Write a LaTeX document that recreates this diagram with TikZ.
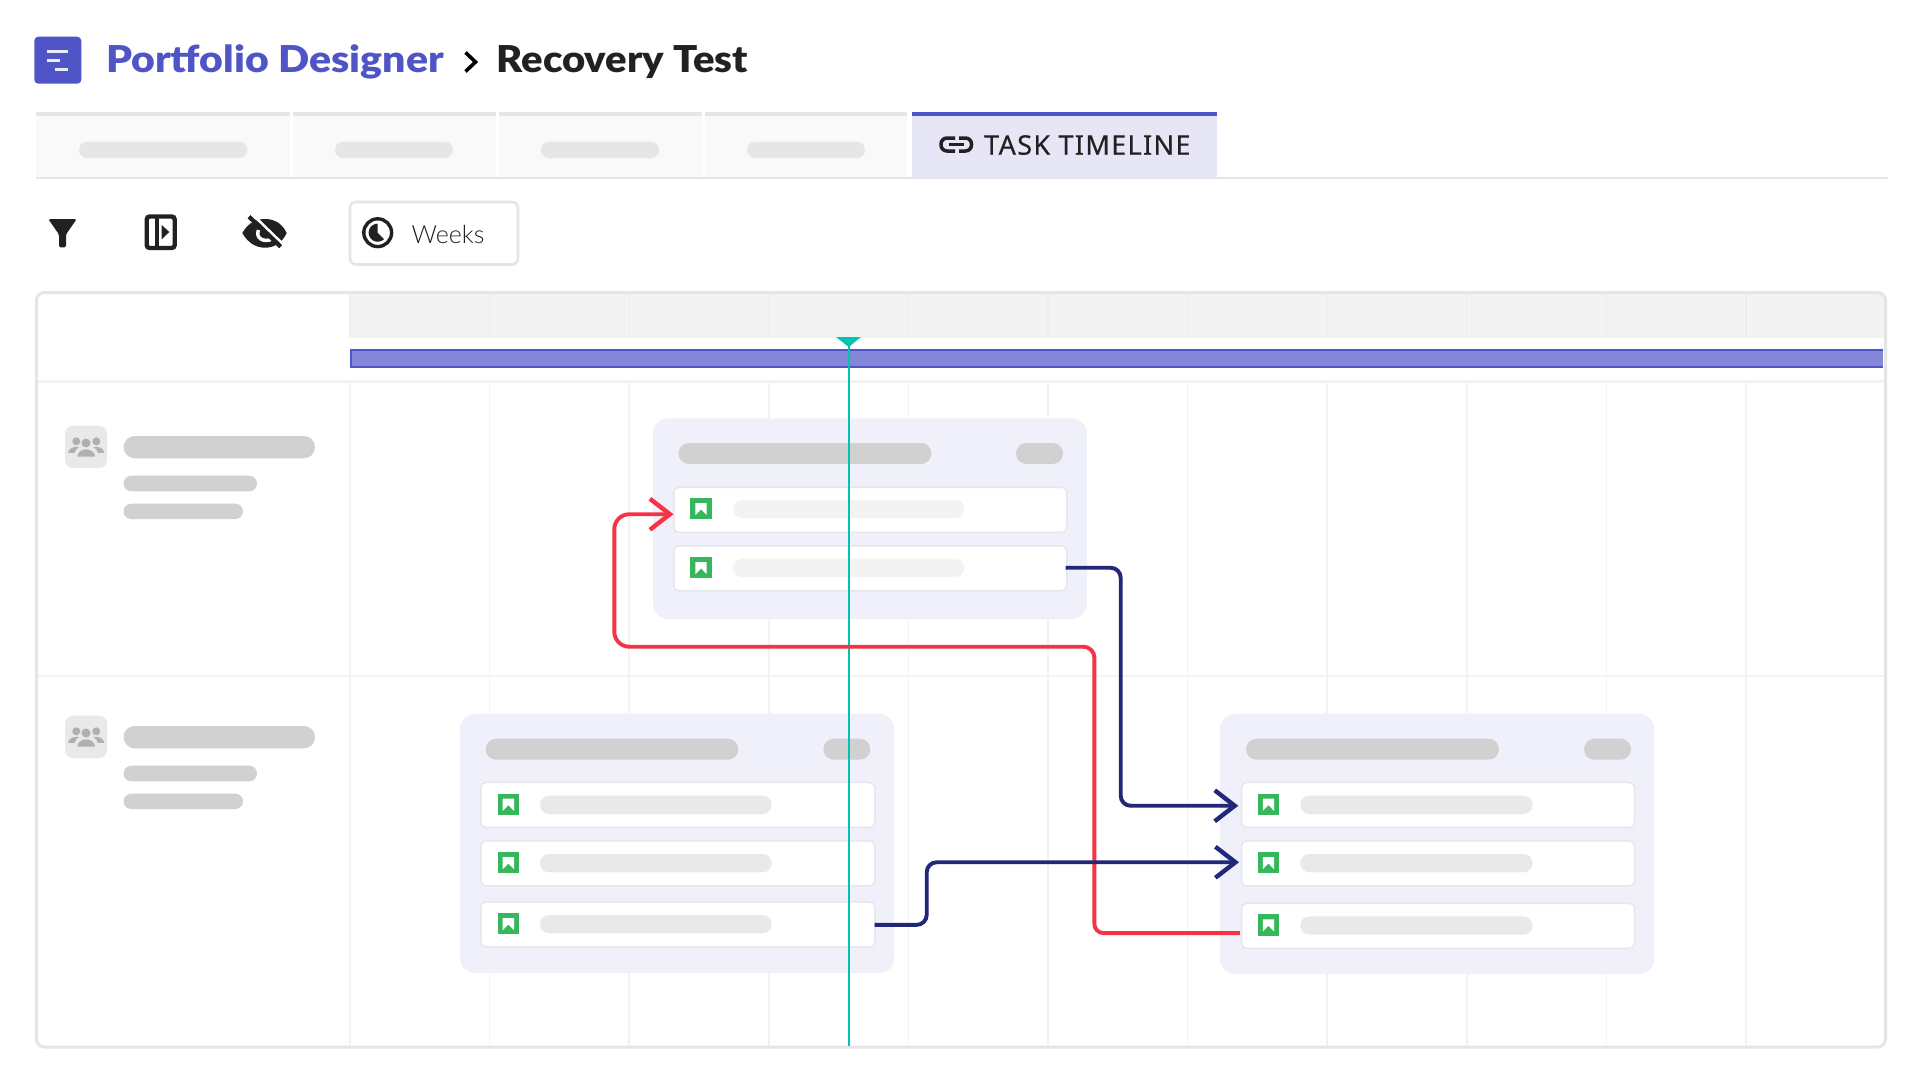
\documentclass[tikz,border=0pt]{standalone}
\usepackage{fontspec}
\usetikzlibrary{arrows.meta}
\setmainfont{Lato}
\newfontfamily\titlef[FakeStretch=1.108]{Lato Black}
\newfontfamily\pagef[FakeStretch=1.082]{Lato Black}
\newfontfamily\tabf[LetterSpace=5,FakeBold=0.4]{Noto Sans}
\newfontfamily\weekf{Lato Light}
\definecolor{brand}{HTML}{4F55C6}
\definecolor{ink}{HTML}{212121}
\definecolor{tabbg}{HTML}{F9F9F9}
\definecolor{tabedge}{HTML}{E6E6E6}
\definecolor{tabact}{HTML}{E6E6F6}
\definecolor{frame}{HTML}{E5E5E5}
\definecolor{headbg}{HTML}{F3F3F3}
\definecolor{headline}{HTML}{EDEDED}
\definecolor{gridc}{HTML}{F3F3F3}
\definecolor{barfill}{HTML}{8487D8}
\definecolor{teal}{HTML}{00C4B0}
\definecolor{pilldk}{HTML}{D1D1D1}
\definecolor{pillmd}{HTML}{E9E9E9}
\definecolor{pilllt}{HTML}{F3F3F3}
\definecolor{cardbg}{HTML}{F0F0FA}
\definecolor{rowedge}{HTML}{E6E6EC}
\definecolor{okgreen}{HTML}{36B75B}
\definecolor{peop}{HTML}{B0B0B0}
\definecolor{redc}{HTML}{F83244}
\definecolor{navyc}{HTML}{222778}
\tikzset{
  x=1pt,y=-1pt,
  card/.style={fill=cardbg,rounded corners=15pt},
  rowbox/.style={draw=rowedge,line width=1.5pt,fill=white,rounded corners=5pt,inner sep=0pt,anchor=north west,minimum width=#1,minimum height=45pt},
  link/.style={line width=3.9pt,rounded corners=10pt,-{Straight Barb[length=20pt,width=31pt,line width=4.4pt]}},
  linkred/.style={link,draw=redc},
  linknavy/.style={link,draw=navyc},
  gridline/.style={draw=gridc,line width=1.5pt},
  tabcell/.style={fill=tabbg},
  toptab/.style={fill=tabedge},
}
\newcommand{\pillbar}[5]{%
  \pgfmathsetmacro{\pr}{0.5*abs(#4-#2)-0.1}%
  \fill[#5,rounded corners=\pr pt] (#1,#2) rectangle (#3,#4);}
\newcommand{\bookicon}[2]{%
  \begin{scope}[shift={(#1,#2)}]
    \fill[okgreen] (0,0) rectangle (21.4,21.4);
    \fill[white] (5,5) -- (16.3,5) -- (16.3,17.2) -- (10.65,11.4) -- (5,17.2) -- cycle;
  \end{scope}}
\newcommand{\people}[2]{%
  \begin{scope}[shift={(#1,#2)}]
    \fill[peop] (-9.7,-5.7) circle (4);
    \fill[peop] (10.3,-5.7) circle (4);
    \fill[peop] (-18,5.8) .. controls (-17,0.5) and (-12,-0.5) .. (-7,0) .. controls (-9,1.5) and (-11,3) .. (-11.5,5.8) -- cycle;
    \fill[peop] (18.4,5.8) .. controls (17.4,0.5) and (12.4,-0.5) .. (7.4,0) .. controls (9.4,1.5) and (11.4,3) .. (11.9,5.8) -- cycle;
    \fill[peop] (0,-4) circle (4.5);
    \fill[peop,draw=pillmd,line width=1.2pt] (-9.5,10.2) .. controls (-9.5,4) and (-4,1.6) .. (0,1.6) .. controls (4,1.6) and (9.5,4) .. (10,10.2) -- cycle;
  \end{scope}}
\begin{document}
\begin{tikzpicture}
\useasboundingbox (0,0) rectangle (1920,1080);
\fill[white] (0,0) rectangle (1920,1080);
% logo
\fill[brand,rounded corners=4pt] (34.3,36.7) rectangle (81.3,83.7);
\fill[white!88!brand] (47,50.2) rectangle (68,53.2);
\fill[white!88!brand] (47,58.5) rectangle (60,61.5);
\fill[white!88!brand] (55,67.5) rectangle (68,70.5);
% title
\node[anchor=base west,inner sep=0pt,text=brand] (crumb) at (106,72) {\titlef\fontsize{37}{44}\selectfont Portfolio Designer};
\node[anchor=base west,inner sep=0pt,text=ink] (page) at (496.5,72) {\pagef\fontsize{37}{44}\selectfont Recovery Test};
\draw[black,line width=3.6pt] (465.5,52.5) -- (475.5,62) -- (465.5,71.5);
% tabs
\foreach \a/\b/\c/\d in {36/290/79/247.4,293/496/335/453,498.5/702/541/659,704.6/907/747/865}{
  \fill[tabcell] (\a,116) rectangle (\b,177);
  \fill[toptab] (\a,111.7) rectangle (\b,116);
  \pillbar{\c}{141.7}{\d}{158}{tabedge}
}
\fill[frame] (36,177) rectangle (1888,179);
\fill[tabact] (912.3,115) rectangle (1216.8,177);
\fill[brand] (912.3,111.7) rectangle (1216.8,115.7);
\draw[ink,line width=3.5pt,rounded corners=6pt] (955,138) -- (941,138) -- (941,151) -- (955,151);
\draw[ink,line width=3.5pt,rounded corners=6pt] (959,138) -- (971.5,138) -- (971.5,151) -- (959,151);
\draw[ink,line width=3.2pt] (949,144.5) -- (964.3,144.5);
\node[anchor=base west,inner sep=0pt,text=ink] (tabtext) at (984,154.7) {\tabf\fontsize{27}{30}\selectfont TASK TIMELINE};
% toolbar: funnel
\fill[ink,rounded corners=1.5pt] (48.3,219) -- (76.7,219) -- (66,234.5) -- (66,247.3) -- (59,247.3) -- (59,234.5) -- cycle;
% panel
\draw[ink,line width=4.4pt,rounded corners=3pt] (146.7,216.5) rectangle (174.7,248);
\fill[ink] (155,216) rectangle (159,248);
\fill[ink] (161.7,225) -- (169.3,232) -- (161.7,239.3) -- cycle;
% eye
\fill[ink] (242.3,233) .. controls (248,223) and (256,219) .. (265,219) .. controls (274,219) and (282,223) .. (286.7,233) .. controls (282,243) and (274,247.7) .. (265,247.7) .. controls (256,247.7) and (248,243) .. (242.3,233) -- cycle;
\draw[white,line width=3.5pt] (258.5,230) .. controls (255,238) and (264,243) .. (272,239);
\draw[white,line width=2.5pt] (251,213) -- (286,247);
\draw[ink,line width=4.2pt] (249,216.7) -- (280.7,246.7);
% weeks
\draw[frame,line width=2.6pt,fill=white,rounded corners=6pt] (350,202) rectangle (518,264.5);
\draw[ink,line width=3.4pt] (377.7,232.7) circle (13.9);
\fill[ink] (377.7,232.7) -- plot[domain=90:315,samples=30] ({377.7+9*cos(\x)},{232.7-9*sin(\x)}) -- cycle;
\node[anchor=base west,inner sep=0pt,text=ink] (weeks) at (411.5,243) {\weekf\fontsize{25}{30}\selectfont Weeks};
% chart frame
\fill[white,rounded corners=8pt] (36.5,292.5) rectangle (1885.5,1047);
\begin{scope}
  \clip[rounded corners=8pt] (36.5,292.5) rectangle (1885.5,1047);
  \fill[headbg] (349.5,292.5) rectangle (1885.5,337.7);
\end{scope}
\foreach \k in {0,...,10}{
  \pgfmathsetmacro{\gx}{350+139.6*\k}
  \draw[draw=headline,line width=1.2pt] (\gx,294) -- (\gx,337.7);
  \draw[gridline] (\gx,381) -- (\gx,1046);
}
\fill[gridc] (37.5,380) rectangle (1884,382.5);
\fill[gridc] (37.5,674.7) rectangle (1884,677);
\fill[barfill] (351,349.5) rectangle (1883,367);
\draw[brand,line width=2pt] (1883,349.5) -- (351,349.5) -- (351,367) -- (1883,367);
\draw[frame,line width=3pt,rounded corners=8pt] (36.5,292.5) rectangle (1885.5,1047);
% left column
\foreach \dy in {0,290}{
  \begin{scope}[yshift=-\dy pt]
    \fill[pillmd,rounded corners=8pt] (65,425.7) rectangle (107,468);
    \people{86}{447}
    \pillbar{123.6}{436}{315}{458.3}{pilldk}
    \pillbar{123.6}{475.7}{257}{491.3}{pilldk}
    \pillbar{123.6}{503.7}{243}{519}{pilldk}
  \end{scope}
}
% card A
\fill[card] (652.9,418.3) rectangle (1086.8,619);
\pillbar{678.5}{443}{931.4}{464}{pilldk}
\pillbar{1016}{443}{1063}{464}{pilldk}
\node[rowbox=393pt] (rA1) at (673,486.5) {};
\node[rowbox=393pt] (rA2) at (673,545) {};
\bookicon{690.4}{498}
\bookicon{690.4}{557}
\pillbar{732.9}{500}{964.3}{518}{pilllt}
\pillbar{732.9}{558.7}{964.3}{577}{pilllt}
% card B
\fill[card] (460,713.7) rectangle (894,973);
\pillbar{485.7}{738.7}{738.3}{759.7}{pilldk}
\pillbar{823.3}{738.7}{870.3}{759.7}{pilldk}
\node[rowbox=394pt] (rB1) at (480,781.7) {};
\node[rowbox=394pt] (rB2) at (480,840.2) {};
\node[rowbox=394pt] (rB3) at (480,901.2) {};
\bookicon{497.7}{793.7}
\bookicon{497.7}{852}
\bookicon{497.7}{913}
\pillbar{540}{795.7}{771.7}{814}{pillmd}
\pillbar{540}{854}{771.7}{872.3}{pillmd}
\pillbar{540}{915}{771.7}{933.3}{pillmd}
% card C
\fill[card] (1220,713.7) rectangle (1654.3,974);
\pillbar{1246}{738.7}{1499}{759.7}{pilldk}
\pillbar{1584}{738.7}{1631}{759.7}{pilldk}
\node[rowbox=393pt] (rC1) at (1240.8,781.7) {};
\node[rowbox=393pt] (rC2) at (1240.8,840.2) {};
\node[rowbox=393pt] (rC3) at (1240.8,902.5) {};
\bookicon{1257.8}{793.7}
\bookicon{1257.8}{852}
\bookicon{1257.8}{914.3}
\pillbar{1300.4}{795.7}{1532.6}{814}{pillmd}
\pillbar{1300.4}{854}{1532.6}{872.3}{pillmd}
\pillbar{1300.4}{916.3}{1532.6}{934.7}{pillmd}
% today marker
\coordinate (todayTop) at (848.7,338);
\coordinate (todayEnd) at (848.7,1046);
\fill[teal] (836,337) -- (861,337) -- (848.7,347) -- cycle;
\draw[teal,line width=1.8pt] (todayTop) -- (todayEnd);
% connector end points on the rows
\coordinate (sC3) at ([yshift=-7.3pt,xshift=-1pt]rC3.west);
\coordinate (eA1) at ([yshift=-4.5pt,xshift=0.5pt]rA1.west);
\coordinate (sA2) at ([xshift=-2pt,yshift=0.5pt]rA2.east);
\coordinate (eC1) at ([yshift=-0.8pt,xshift=-2.5pt]rC1.west);
\coordinate (sB3) at ([xshift=-1pt,yshift=-0.4pt]rB3.east);
\coordinate (eC2) at ([yshift=1.2pt,xshift=-1.8pt]rC2.west);
% connector routes
\coordinate (redV) at (1094.4,0);
\coordinate (redB) at (614.3,646.7);
\coordinate (navV) at (1120.7,0);
\coordinate (nabV) at (926.7,0);
\draw[linkred,rounded corners=9pt] (sC3) -- (sC3 -| redV) [rounded corners=11pt] -- (redV |- redB) [rounded corners=15pt] -- (redB) -- (redB |- eA1) -- (eA1);
\draw[linknavy] (sA2) -- (sA2 -| navV) -- (navV |- eC1) -- (eC1);
\draw[linknavy] (sB3) -- (sB3 -| nabV) -- (nabV |- eC2) -- (eC2);
\end{tikzpicture}
\end{document}
